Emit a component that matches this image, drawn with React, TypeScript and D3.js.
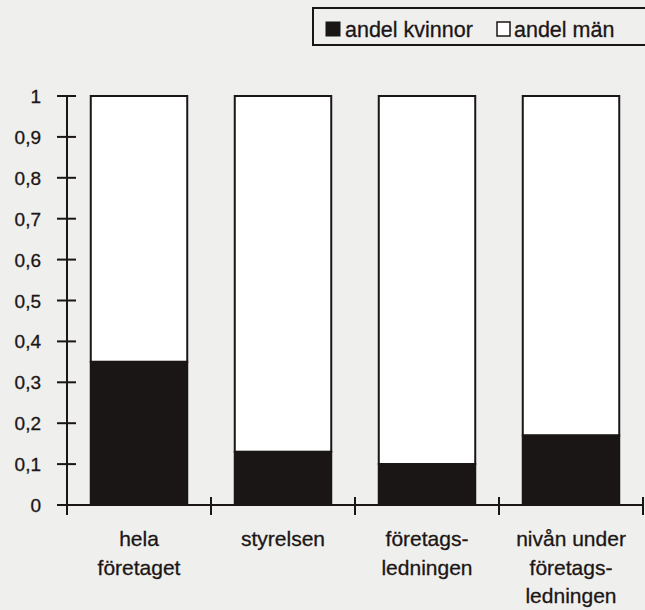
import React from "react";
import * as d3 from "d3";

const categories: string[][] = [
  ["hela", "företaget"],
  ["styrelsen"],
  ["företags-", "ledningen"],
  ["nivån under", "företags-", "ledningen"],
];
const categoryKeys = ["hela företaget", "styrelsen", "företagsledningen", "nivån under företagsledningen"];
const andelKvinnor = [0.35, 0.13, 0.1, 0.17];
const andelMan = andelKvinnor.map((v) => 1 - v);
const yTicks = [0, 0.1, 0.2, 0.3, 0.4, 0.5, 0.6, 0.7, 0.8, 0.9, 1];
const yTickLabels = ["0", "0,1", "0,2", "0,3", "0,4", "0,5", "0,6", "0,7", "0,8", "0,9", "1"];
const legendLabels = ["andel kvinnor", "andel män"];

const W = 645;
const H = 610;
const INK = "#1b1616";
const BG = "#efefed";
const FONT = "'Liberation Sans', Arial, Helvetica, sans-serif";

export default function App() {
  const x = d3
    .scaleBand<string>()
    .domain(categoryKeys)
    .range([67, 643])
    .paddingInner(0.33)
    .paddingOuter(0.165);
  const y = d3.scaleLinear().domain([0, 1]).range([505, 96]);
  const step = x.step();
  const x0 = 67;
  const boundaries = d3.range(categoryKeys.length + 1).map((i) => x0 + i * step);

  return (
    <svg
      width={W}
      height={H}
      style={{ position: "absolute", left: 0, top: 0, display: "block" }}
      fontFamily={FONT}
    >
      <rect x={0} y={0} width={W} height={H} fill={BG} />

      {/* legend */}
      <rect x={313} y={8} width={345} height={37} fill="none" stroke={INK} strokeWidth={2} />
      <rect x={326} y={22} width={14} height={14} fill={INK} stroke={INK} strokeWidth={1} />
      <text x={345} y={37} fontSize={21.5} fill={INK} stroke={INK} strokeWidth={0.3}>{legendLabels[0]}</text>
      <rect x={497} y={22} width={13} height={14} fill="#fff" stroke={INK} strokeWidth={1.5} />
      <text x={514} y={37} fontSize={21.5} fill={INK} stroke={INK} strokeWidth={0.3}>{legendLabels[1]}</text>

      {/* bars */}
      {categoryKeys.map((c, i) => {
        const bx = x(c)!;
        const bw = x.bandwidth();
        return (
          <g key={c}>
            <rect
              x={bx}
              y={y(1)}
              width={bw}
              height={y(andelKvinnor[i]) - y(1)}
              fill="#ffffff"
              stroke={INK}
              strokeWidth={2}
            />
            <rect
              x={bx}
              y={y(andelKvinnor[i])}
              width={bw}
              height={y(0) - y(andelKvinnor[i])}
              fill={INK}
              stroke={INK}
              strokeWidth={2}
            />
            <title>{`${c}: ${andelKvinnor[i]} / ${andelMan[i]}`}</title>
          </g>
        );
      })}

      {/* y axis */}
      <line x1={x0} x2={x0} y1={y(1)} y2={y(0) + 10} stroke={INK} strokeWidth={2} />
      {yTicks.map((t, i) => (
        <g key={t}>
          <line x1={x0 - 10} x2={x0 + 9} y1={y(t)} y2={y(t)} stroke={INK} strokeWidth={2} />
          <text x={41} y={y(t) + 7} fontSize={19} textAnchor="end" fill={INK} stroke={INK} strokeWidth={0.3}>
            {yTickLabels[i]}
          </text>
        </g>
      ))}

      {/* x axis */}
      <line x1={x0 - 10} x2={643} y1={y(0)} y2={y(0)} stroke={INK} strokeWidth={2} />
      {boundaries.slice(1).map((bx) => (
        <line key={bx} x1={bx} x2={bx} y1={y(0) - 8} y2={y(0) + 10} stroke={INK} strokeWidth={2} />
      ))}

      {/* category labels */}
      {categoryKeys.map((c, i) => (
        <text key={c} fontSize={21} textAnchor="middle" fill={INK} stroke={INK} strokeWidth={0.3}>
          {categories[i].map((line, j) => (
            <tspan key={j} x={x(c)! + x.bandwidth() / 2} y={546 + j * 28.5}>
              {line}
            </tspan>
          ))}
        </text>
      ))}
    </svg>
  );
}
